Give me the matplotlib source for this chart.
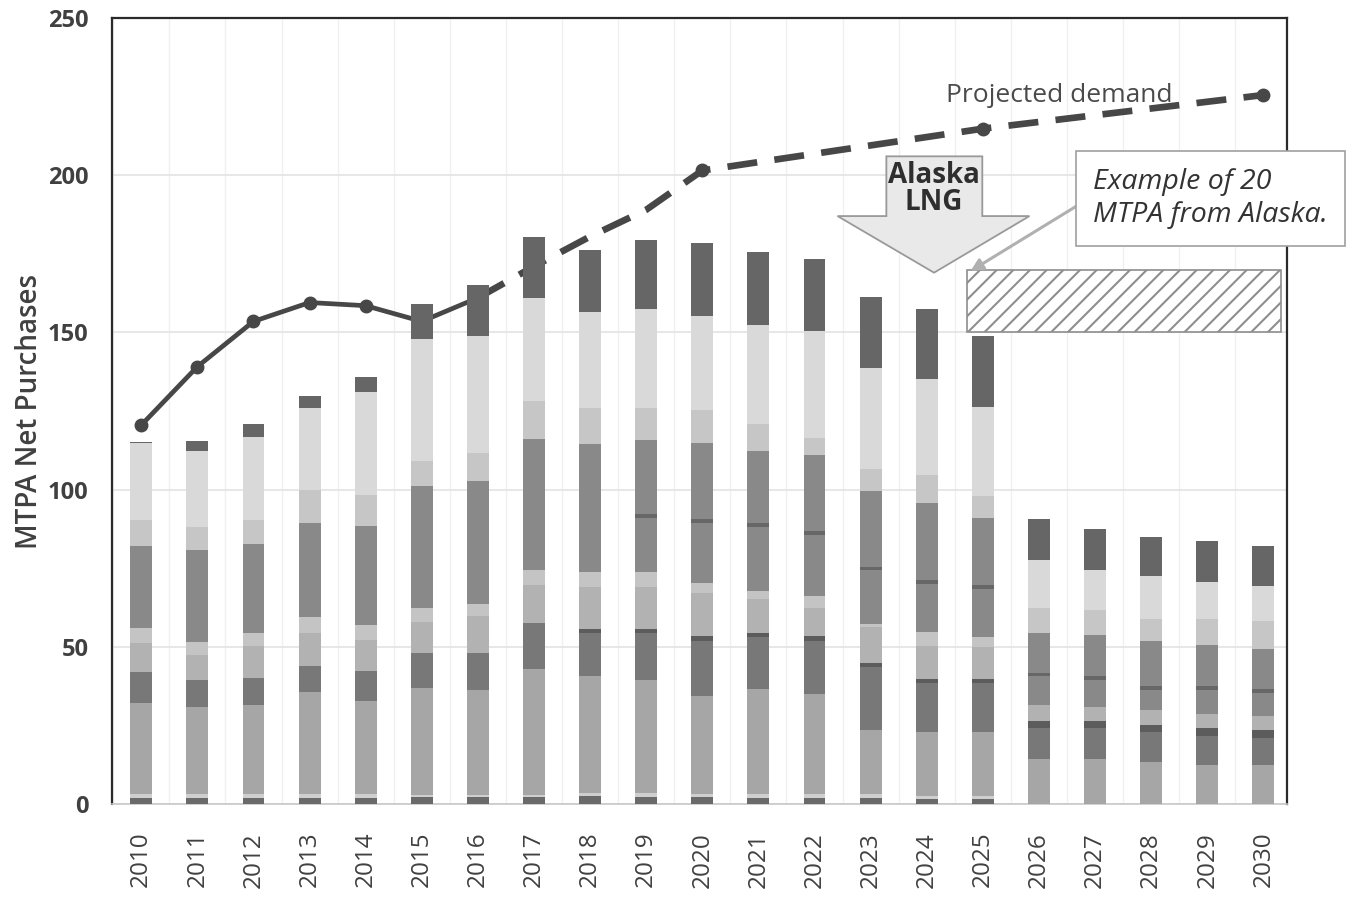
import numpy as np
import matplotlib
matplotlib.use("Agg")
import matplotlib.pyplot as plt
from matplotlib.patches import Polygon, Rectangle

plt.rcParams['font.family'] = ['Open Sans', 'DejaVu Sans']
plt.rcParams['hatch.linewidth'] = 1.5
plt.rcParams['hatch.color'] = '#a0a0a0'

years = list(range(2010, 2031))

# supply contracts, bottom of the stack to the top (MTPA)
base_dark = [2.0, 2.0, 2.0, 2.0, 2.0, 2.2, 2.2, 2.2, 2.4, 2.2, 2.2, 2.0, 2.0, 2.0, 1.6, 1.6, 0, 0, 0, 0, 0]
base_light = [1.2, 1.2, 1.2, 1.2, 1.2, 0.8, 0.8, 0.8, 1.1, 1.2, 1.1, 1.2, 1.2, 1.2, 1.0, 1.0, 0, 0, 0, 0, 0]
mid_grey = [29.0, 27.6, 28.3, 32.5, 29.7, 33.9, 33.2, 39.9, 37.2, 35.9, 30.9, 33.4, 31.8, 20.2, 20.4, 20.4,
            14.2, 14.2, 13.5, 12.4, 12.4]
dark_grey = [9.7, 8.6, 8.5, 8.2, 9.5, 11.0, 11.7, 14.6, 13.7, 15.1, 17.8, 16.6, 17.0, 20.2, 15.4, 15.4,
             9.9, 9.9, 9.3, 9.3, 8.6]
dark_cap = [0, 0, 0, 0, 0, 0, 0, 0, 1.3, 1.3, 1.3, 1.3, 1.3, 1.3, 1.3, 1.3, 2.4, 2.4, 2.4, 2.4, 2.4]
silver = [9.4, 8.0, 10.3, 10.4, 9.8, 10.0, 11.8, 12.1, 13.2, 13.2, 13.8, 10.8, 9.0, 11.4, 10.7, 10.2,
          5.0, 4.5, 4.6, 4.6, 4.6]
pale = [4.6, 4.2, 4.0, 5.3, 4.7, 4.6, 3.8, 4.9, 4.8, 4.8, 3.3, 2.4, 3.9, 1.0, 4.3, 3.2, 0, 0, 0, 0, 0]
slate_low = [26.2, 29.2, 28.4, 29.7, 31.5, 38.8, 39.3, 41.6, 40.8, 17.4, 19.1, 20.4, 19.5, 17.0, 15.4, 15.4,
             9.1, 8.6, 6.6, 7.5, 7.3]
slate_cap = [0, 0, 0, 0, 0, 0, 0, 0, 0, 1.2, 1.2, 1.2, 1.2, 1.2, 1.2, 1.2, 1.2, 1.2, 1.2, 1.2, 1.2]
slate_high = [0, 0, 0, 0, 0, 0, 0, 0, 0, 23.4, 24.1, 23.1, 24.0, 24.0, 24.6, 21.4,
              12.5, 13.0, 14.3, 13.3, 12.7]
light_grey = [8.2, 7.4, 7.6, 10.6, 10.0, 7.7, 9.0, 12.1, 11.3, 10.1, 10.4, 8.6, 5.4, 7.2, 8.6, 7.0,
              8.0, 8.0, 7.0, 8.0, 9.0]
lightest = [24.4, 24.2, 26.5, 26.0, 32.7, 38.9, 37.0, 32.9, 30.6, 31.8, 30.0, 31.4, 34.1, 32.1, 30.6, 28.1,
            15.3, 12.7, 13.5, 11.8, 11.0]
top_dark = [0.5, 3.2, 4.1, 3.9, 4.6, 11.0, 16.4, 19.2, 19.8, 21.9, 23.1, 23.2, 22.8, 22.4, 22.5, 22.5,
            12.9, 12.9, 12.5, 13.0, 13.0]

segments = [
    (base_dark, '#6a6a6a'),
    (base_light, '#cfcfcf'),
    (mid_grey, '#a6a6a6'),
    (dark_grey, '#787878'),
    (dark_cap, '#5c5c5c'),
    (silver, '#b2b2b2'),
    (pale, '#c4c4c4'),
    (slate_low, '#898989'),
    (slate_cap, '#676767'),
    (slate_high, '#898989'),
    (light_grey, '#c6c6c6'),
    (lightest, '#d9d9d9'),
    (top_dark, '#666666'),
]

# demand: history (solid) and projection (dashed)
hist_years = [2010, 2011, 2012, 2013, 2014, 2015, 2016]
hist_demand = [120.5, 139.1, 153.5, 159.5, 158.5, 153.5, 161.0]
proj_years = [2016, 2017, 2018, 2019, 2020, 2025, 2030]
proj_demand = [161.0, 171.0, 180.5, 189.0, 201.5, 214.8, 225.5]

alaska_volume = 20
alaska_base = 150

fig = plt.figure(figsize=(13.55, 9.23), dpi=100)
ax = fig.add_axes([0.0827, 0.1289, 0.8671, 0.8516])

x = np.arange(len(years))
pos = {y: i for i, y in enumerate(years)}

bottom = np.zeros(len(years))
for vals, col in segments:
    vals = np.array(vals, dtype=float)
    ax.bar(x, vals, 0.39, bottom=bottom, color=col, edgecolor='none', zorder=3)
    bottom += vals

# demand lines sit behind the bars
ax.plot([pos[y] for y in hist_years], hist_demand, color='#474747', lw=3.4,
        marker='o', ms=9, zorder=2, solid_capstyle='round')
ax.plot([pos[y] for y in proj_years], proj_demand, color='#474747', lw=4.8,
        dashes=(4.5, 2.6), marker='o', ms=9, markevery=[1, 4, 5, 6], zorder=2)
ax.text(16.37, 225.2, 'Projected demand', fontsize=19, color='#4a4a4a',
        va='center', ha='center', zorder=6)

# hatched block for Alaska volumes
ax.add_patch(Rectangle((pos[2025] - 0.28, alaska_base), 5.6, alaska_volume, facecolor='white',
                       edgecolor='#8e8e8e', hatch='//', lw=1.2, zorder=4))

# big block arrow
arr = Polygon([[13.28, 206], [14.99, 206], [14.99, 187], [15.83, 187], [14.13, 169],
               [12.41, 187], [13.28, 187]], closed=True, facecolor='#e9e9e9',
              edgecolor='#999999', lw=1.3, zorder=5)
ax.add_patch(arr)
ax.text(14.13, 195.5, 'Alaska\nLNG', fontsize=20, fontweight='bold', color='#2e2e2e',
        ha='center', va='center', linespacing=0.92, zorder=6)

ax.annotate('Example of 20\nMTPA from Alaska.', xy=(14.78, 169.5), xytext=(16.97, 192.5),
            fontsize=20.5, fontstyle='italic', color='#333333', ha='left', va='center',
            linespacing=1.25, annotation_clip=False,
            bbox=dict(boxstyle='square,pad=0.6', fc='white', ec='#a0a0a0', lw=1.2),
            arrowprops=dict(arrowstyle='-|>', color='#b0b0b0', lw=2.2, mutation_scale=18,
                            relpos=(0, 0.55), shrinkA=0, shrinkB=0),
            zorder=7)

ax.set_xlim(-0.52, 20.42)
ax.set_ylim(0, 250)
ax.set_yticks([0, 50, 100, 150, 200, 250])
ax.set_xticks(x)
ax.set_xticklabels([str(y) for y in years], rotation=90, fontsize=17.5, color='#404040')
ax.tick_params(axis='x', length=0, pad=20)
ax.tick_params(axis='y', length=0, pad=17, labelsize=17, labelcolor='#404040')
for lab in ax.get_yticklabels():
    lab.set_fontweight('bold')

ax.set_xticks(np.arange(-0.5, 20.5, 1), minor=True)
ax.tick_params(axis='x', which='minor', length=0)
ax.grid(axis='y', color='#e3e3e3', lw=1.2, zorder=0)
ax.grid(axis='x', which='minor', color='#f0f0f0', lw=1, zorder=0)
ax.grid(axis='x', which='major', visible=False)

ax.set_ylabel('MTPA Net Purchases', fontsize=20, fontweight='semibold', color='#404040')
ax.yaxis.set_label_coords(-0.058, 0.5)

for side in ['left', 'right', 'top']:
    ax.spines[side].set_color('#2a2a2a')
    ax.spines[side].set_linewidth(1.6)
ax.spines['bottom'].set_color('#c8c8c8')
ax.spines['bottom'].set_linewidth(1.2)

fig.savefig('out.png', dpi=100)
